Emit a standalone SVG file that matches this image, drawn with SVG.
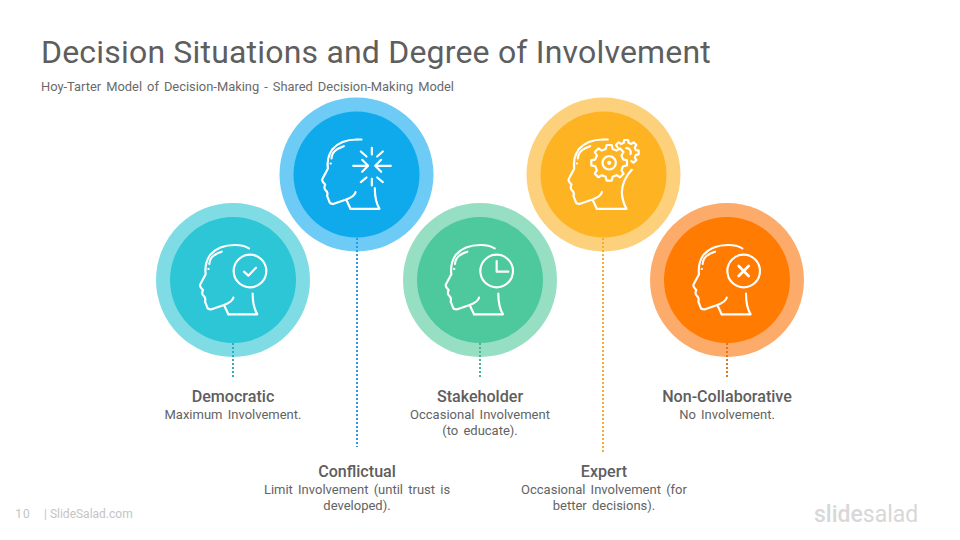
<svg xmlns="http://www.w3.org/2000/svg" xmlns:xlink="http://www.w3.org/1999/xlink" width="960" height="540" viewBox="0 0 960 540">
<style>
text{font-family:Roboto,"Liberation Sans",sans-serif;text-anchor:middle;fill:#5e5e5e}
.h{font-size:16.100px;font-weight:500}
.d{font-size:13px;word-spacing:2px;fill:#636363}
.ic{fill:none;stroke:#fff;stroke-width:6.500;stroke-linecap:round;stroke-linejoin:round}
.c{fill:none;stroke-width:2;stroke-dasharray:2 2}
</style>
<defs>
<path id="face" d="M222 330L185 343Q173 344 171 335L165 320Q168 310 162 304Q153 297 159 285Q147 273 151 268L167 238Q163 205 180 180Q205 150 255 150M215 170Q190 178 182 192Q178 200 178 207M175 222h1M250 308Q247 320 222 330L235 358"/>
<path id="head" d="M255 150Q280 150 297 160M235 358H322Q308 335 308 296"/>
<path id="headc" d="M255 150H268M235 358H322Q308 335 308 296"/>
<path id="heade" d="M255 150H268M235 358H324Q311 335 310 308Q312 270 340 241"/>
</defs>
<rect width="960" height="540" fill="#fff"/>
<text x="41" y="63" style="font-size:32px;text-anchor:start;letter-spacing:.19px">Decision Situations and Degree of Involvement</text>
<text x="41" y="91" style="font-size:12.900px;text-anchor:start;word-spacing:1.800px;fill:#6a6a6a">Hoy-Tarter Model of Decision-Making - Shared Decision-Making Model</text>
<g id="node-democratic">
<circle cx="233" cy="280" r="77" fill="#7fdce4"/><circle cx="233" cy="280" r="63" fill="#2cc6d6"/>
<g class="ic" transform="translate(233 280) scale(.3333) translate(-249 -255)"><use xlink:href="#face"/><use xlink:href="#head"/><circle cx="300" cy="228" r="49"/><path d="M282 230L295 242L318 218"/></g>
<text class="h" x="233" y="402">Democratic</text><text class="d" x="233" y="419">Maximum Involvement.</text>
</g>
<g id="node-conflictual">
<circle cx="356.500" cy="174.500" r="77" fill="#6ecbf5"/><circle cx="356.500" cy="174.500" r="63" fill="#0faaec"/>
<g class="ic" transform="translate(356.500 174.500) scale(.3333) translate(-253 -255)"><use xlink:href="#face"/><use xlink:href="#headc"/><path d="M243 229H286M270 211L288 229L270 247M356 229H311M327 211L309 229L327 247M299 175V195M299 268V288M266 186L283 201M332 186L315 201M266 278L283 264M332 278L315 264"/></g>
<text class="h" x="357" y="477">Conflictual</text><text class="d" x="357" y="494">Limit Involvement (until trust is</text><text class="d" x="357" y="510">developed).</text>
</g>
<g id="node-stakeholder">
<circle cx="480" cy="280" r="77" fill="#96dfc2"/><circle cx="480" cy="280" r="63" fill="#4dc99d"/>
<g class="ic" transform="translate(480 280) scale(.3333) translate(-253 -255)"><use xlink:href="#face"/><use xlink:href="#head"/><circle cx="303" cy="228" r="49"/><path d="M303 198V230H338"/></g>
<text class="h" x="480" y="402">Stakeholder</text><text class="d" x="480" y="419">Occasional Involvement</text><text class="d" x="480" y="435">(to educate).</text>
</g>
<g id="node-expert">
<circle cx="603.500" cy="174.500" r="77" fill="#fdd17c"/><circle cx="603.500" cy="174.500" r="63" fill="#feb323"/>
<g class="ic" transform="translate(603.500 174.500) scale(.3333) translate(-255 -255)"><use xlink:href="#face"/><use xlink:href="#heade"/><circle cx="272" cy="220" r="20"/><circle cx="272" cy="220" r="3"/>
<path transform="translate(272 220)" d="M41.700 -10.400L53.500 -7.500L53.500 7.500L41.700 10.400L36.900 22.100L43.100 32.500L32.500 43.100L22.100 36.900L10.400 41.700L7.500 53.500L-7.500 53.500L-10.400 41.700L-22.100 36.900L-32.500 43.100L-43.100 32.500L-36.900 22.100L-41.700 10.400L-53.500 7.500L-53.500 -7.500L-41.700 -10.400L-36.900 -22.100L-43.100 -32.500L-32.500 -43.100L-22.100 -36.900L-10.400 -41.700L-7.500 -53.500L7.500 -53.500L10.400 -41.700L22.100 -36.900L32.500 -43.100L43.100 -32.500L36.900 -22.100Z"/>
<path transform="translate(323 189)" d="M-25.700 -15.500L-30.700 -22.300L-22.300 -30.700L-15.500 -25.700L-7.300 -29.100L-5.900 -37.500L5.900 -37.500L7.300 -29.100L15.500 -25.700L22.300 -30.700L30.700 -22.300L25.700 -15.500L29.100 -7.300L37.500 -5.900L37.500 5.900L29.100 7.300L25.700 15.500L30.700 22.300L22.300 30.700L15.500 25.700M0 -13A13 13 0 0 1 13 5"/></g>
<text class="h" x="604" y="477">Expert</text><text class="d" x="604" y="494">Occasional Involvement (for</text><text class="d" x="604" y="510">better decisions).</text>
</g>
<g id="node-noncollaborative">
<circle cx="727" cy="280" r="77" fill="#fdab6b"/><circle cx="727" cy="280" r="63" fill="#ff7b02"/>
<g class="ic" transform="translate(727 280) scale(.3333) translate(-251 -255)"><use xlink:href="#face"/><use xlink:href="#head"/><circle cx="301" cy="228" r="49"/><path d="M286 213L316 243M316 213L286 243" stroke-width="8"/></g>
<text class="h" x="727" y="402">Non-Collaborative</text><text class="d" x="727" y="419">No Involvement.</text>
</g>
<g id="connectors">
<path class="c" stroke="#3aa9bd" d="M233 343V378"/>
<path class="c" stroke="#2a9cdb" d="M357 238V447"/>
<path class="c" stroke="#4db398" d="M480 343V378"/>
<path class="c" stroke="#f2b030" d="M603 238V453"/>
<path class="c" stroke="#d67a2a" d="M727 343V378"/>
</g>
<text x="23" y="518" style="font-size:12px;fill:#c4c4c4;letter-spacing:1px">10</text>
<text x="44" y="518" style="font-size:12px;fill:#c4c4c4;text-anchor:start">| SlideSalad.com</text>
<text x="814" y="522" style="font-size:23px;font-weight:500;fill:#d8d8d8;text-anchor:start">slide<tspan font-weight="400">salad</tspan></text>
</svg>
